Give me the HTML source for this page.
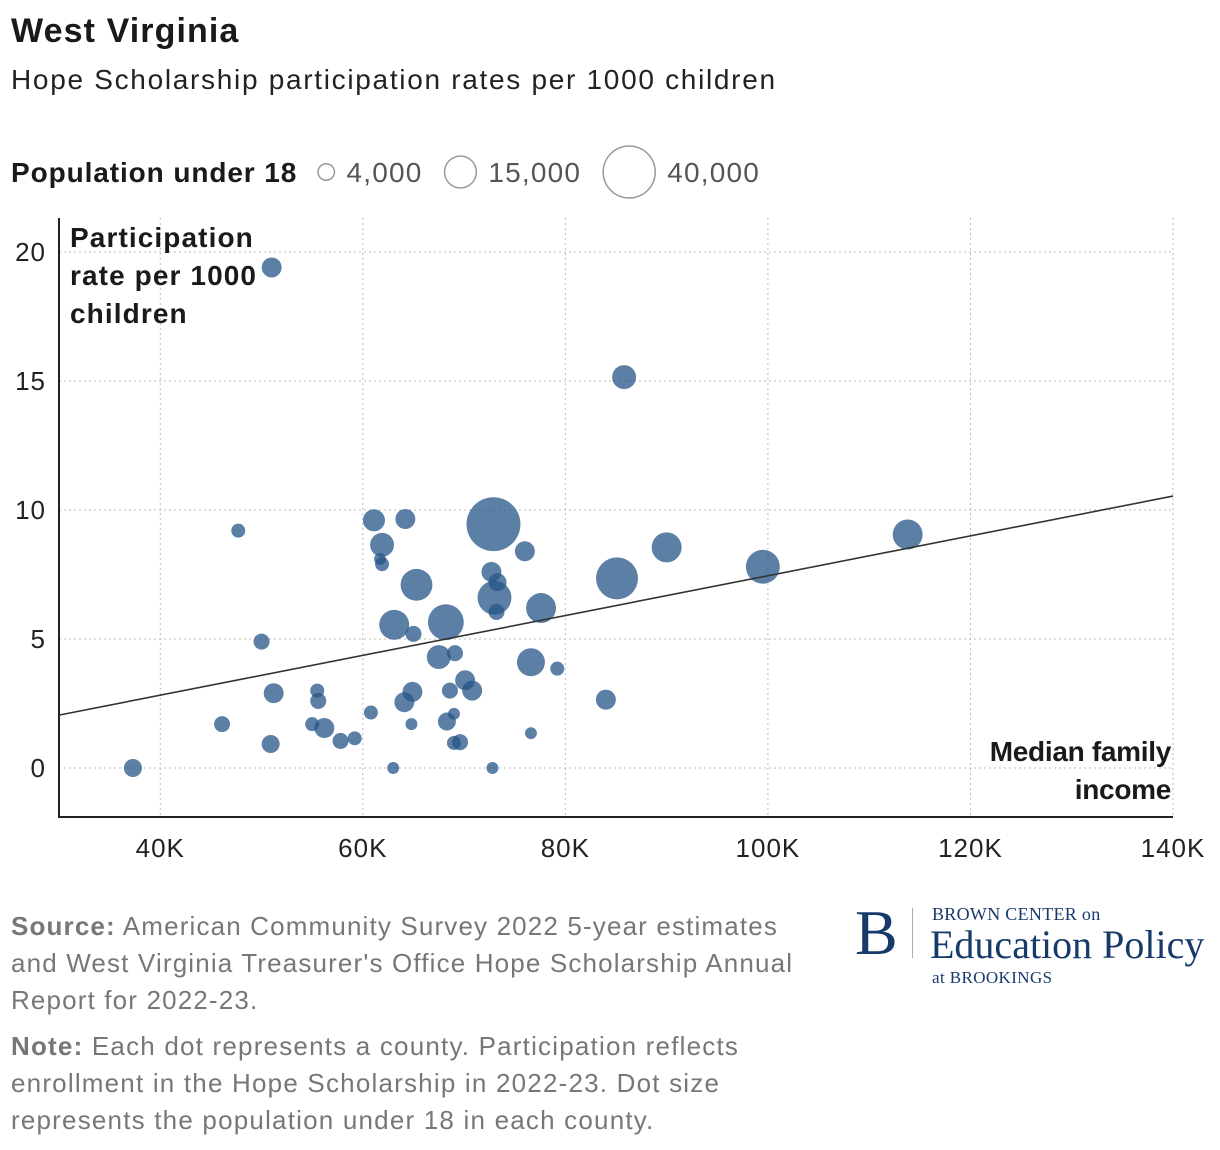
<!DOCTYPE html>
<html><head><meta charset="utf-8"><style>
body{margin:0;background:#fff;width:1220px;height:1150px;overflow:hidden;font-family:"Liberation Sans",sans-serif;color:#1a1a1a}
.t{position:absolute;white-space:nowrap}
</style></head><body>
<div class="t" style="left:11px;top:12px;font-size:34px;font-weight:bold;letter-spacing:1.1px">West Virginia</div>
<div class="t" style="left:11px;top:64px;font-size:28px;color:#222;letter-spacing:1.7px">Hope Scholarship participation rates per 1000 children</div>
<svg width="1220" height="1150" style="position:absolute;left:0;top:0" id="chart" font-family="Liberation Sans, sans-serif"></svg>
<div class="t" style="left:11px;top:908px;font-size:26px;line-height:37px;color:#777;letter-spacing:1.15px"><b>Source:</b> American Community Survey 2022 5-year estimates<br>and West Virginia Treasurer's Office Hope Scholarship Annual<br>Report for 2022-23.</div>
<div class="t" style="left:11px;top:1028px;font-size:26px;line-height:37px;color:#777;letter-spacing:1.2px"><b>Note:</b> Each dot represents a county. Participation reflects<br>enrollment in the Hope Scholarship in 2022-23. Dot size<br>represents the population under 18 in each county.</div>
<div style="position:absolute;left:855px;top:900px;color:#173a6b;font-family:'Liberation Serif',serif">
 <div class="t" style="left:0;top:0;font-size:64px;line-height:66px">B</div>
 <div style="position:absolute;left:57px;top:8px;width:1px;height:50px;background:#aab"></div>
 <div class="t" style="left:77px;top:4px;font-size:18px;letter-spacing:0.3px">BROWN CENTER on</div>
 <div class="t" style="left:75px;top:21px;font-size:40px">Education Policy</div>
 <div class="t" style="left:77px;top:68px;font-size:17px;letter-spacing:0.4px">at BROOKINGS</div>
</div>
<script>
const incomes=[37300,47700,50000,51000,51200,46100,50900,55500,55600,55000,56200,57800,59200,60800,61100,61900,61700,61900,64200,65300,63100,65000,68200,67500,69100,68600,64900,64100,64800,63000,68300,69000,69000,69600,70100,70800,72900,72700,73000,73300,73200,72800,76000,76600,76600,77600,79200,84000,85100,85800,90000,99500,113800];
const rates=[0,9.2,4.9,19.4,2.9,1.7,0.93,3.0,2.6,1.7,1.55,1.05,1.15,2.15,9.6,8.65,8.1,7.9,9.65,7.1,5.55,5.2,5.65,4.3,4.45,3.0,2.95,2.55,1.7,0,1.8,2.1,0.97,1.0,3.4,3.0,9.45,7.6,6.6,7.2,6.05,0,8.4,4.1,1.35,6.2,3.85,2.65,7.35,15.15,8.55,7.8,9.05];
const pops=[4800,2900,3800,5900,5900,3800,4800,2900,3800,2900,5900,3800,2900,2900,7200,8500,2100,2900,5900,15000,13300,3800,19000,8500,3800,3800,5900,5900,2100,2100,4800,2100,2900,3800,5900,5900,43000,5900,17000,4800,3800,2100,5900,11600,2100,13300,2900,5900,26000,8500,13300,17000,13300];
const xTicks=[40000,60000,80000,100000,120000,140000];
const xTickLabels=["40K","60K","80K","100K","120K","140K"];
const yTicks=[0,5,10,15,20];
const trend=[[30000,2.05],[140000,10.54]];
const legendPops=[4000,15000,40000];
const legendLabels=["4,000","15,000","40,000"];
const NS="http://www.w3.org/2000/svg",svg=document.getElementById('chart');
const X=v=>59+(v-30000)*0.0101273, Y=v=>768-v*25.8, R=p=>0.13*Math.sqrt(p);
function mk(t,a,txt){const e=document.createElementNS(NS,t);for(const k in a)e.setAttribute(k,a[k]);if(txt!=null)e.textContent=txt;svg.appendChild(e);return e;}
xTicks.forEach((v,i)=>{
 const g=mk('line',{x1:X(v),x2:X(v),y1:218,y2:817,stroke:'#bbb','stroke-dasharray':'2,3'});
 
 const t=mk('text',{x:X(v),y:857,'text-anchor':'middle','font-size':26,fill:'#222','letter-spacing':1},xTickLabels[i]);
 
});
yTicks.forEach(v=>{
 const g=mk('line',{x1:59,x2:1173,y1:Y(v),y2:Y(v),stroke:'#bbb','stroke-dasharray':'2,3'});
 
 const t=mk('text',{x:46,y:Y(v)+9,'text-anchor':'end','font-size':26,fill:'#222','letter-spacing':1},v);
 
});
const ax=mk('path',{d:'M59,218V817H1173',fill:'none',stroke:'#222','stroke-width':2});

incomes.forEach((v,i)=>{
 const c=mk('circle',{cx:X(v),cy:Y(rates[i]),r:R(pops[i]),fill:'rgb(38,84,135)','fill-opacity':0.75});
 
});
const tl=mk('line',{x1:X(trend[0][0]),y1:Y(trend[0][1]),x2:X(trend[1][0]),y2:Y(trend[1][1]),stroke:'#333','stroke-width':1.6});

[["Participation",247],["rate per 1000",285],["children",323]].forEach(([s,y])=>{
 const t=mk('text',{x:70,y:y,'font-size':28,'font-weight':'bold',fill:'#1a1a1a','letter-spacing':1.1},s);
 
});
[["Median family",761],["income",799]].forEach(([s,y])=>{
 const t=mk('text',{x:1171,y:y,'text-anchor':'end','font-size':28,'font-weight':'bold',fill:'#1a1a1a','letter-spacing':-0.3},s);
 
});
const lt=mk('text',{x:11,y:182,'font-size':28,'font-weight':'bold',fill:'#1a1a1a','letter-spacing':0.9},'Population under 18');

let lx=318;
legendPops.forEach((p,i)=>{
 const r=R(p);
 const c=mk('circle',{cx:lx+r,cy:172,r:r,fill:'none',stroke:'#999','stroke-width':1.5});
 
 const t=mk('text',{x:lx+2*r+12,y:182,'font-size':28,fill:'#555','letter-spacing':1.2},legendLabels[i]);
 
 lx+=2*r+12+t.getComputedTextLength()+22;
});
</script>
</body></html>
